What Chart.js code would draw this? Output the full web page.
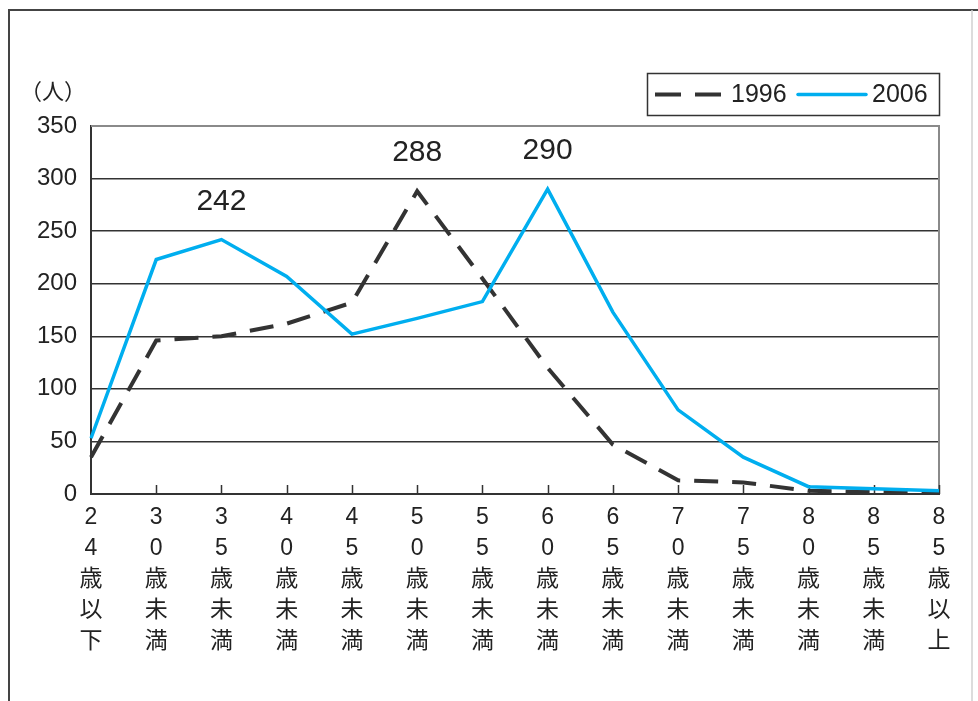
<!DOCTYPE html>
<html>
<head>
<meta charset="utf-8">
<script src="https://cdn.jsdelivr.net/npm/chart.js@4/dist/chart.umd.min.js"></script>
<style>
  html, body { margin: 0; padding: 0; background: #fff; }
  canvas { display: block; }
</style>
</head>
<body>
<canvas id="chart" width="978" height="701"></canvas>
<script>
// Age groups along the x axis
const categories = ['24歳以下', '30歳未満', '35歳未満', '40歳未満', '45歳未満', '50歳未満', '55歳未満',
                    '60歳未満', '65歳未満', '70歳未満', '75歳未満', '80歳未満', '85歳未満', '85歳以上'];
// Number of people per age group
const series1996 = [35, 146, 150, 162, 182, 288, 205, 120, 47, 13, 11, 3, 2, 1];
const series2006 = [53, 223, 242, 207, 152, 167, 183, 290, 173, 80, 35, 7, 5, 3];
const seriesNames = ['1996', '2006'];
// Y axis range and step
const yMin = 0, yMax = 350, yStep = 50;
// Category indexes whose values are printed above the line
const labelled1996 = [5];
const labelled2006 = [2, 7];
const unitLabel = '（人）';

const FONT = "'Liberation Sans', 'Noto Sans CJK JP', Arial, sans-serif";
const CJK_FONT = "'Noto Sans CJK JP', 'Liberation Sans', sans-serif";
const DARK = '#333333';
const BLUE = '#00AEEF';
const DASH = [24, 14];

// Outer frame of the figure
const framePlugin = {
  id: 'frame',
  beforeDraw(chart) {
    const ctx = chart.ctx;
    ctx.save();
    ctx.fillStyle = '#fff';
    ctx.fillRect(0, 0, chart.width, chart.height);
    ctx.strokeStyle = '#444';
    ctx.lineWidth = 2;
    ctx.beginPath();
    ctx.moveTo(9, chart.height);
    ctx.lineTo(9, 10);
    ctx.lineTo(chart.width, 10);
    ctx.stroke();
    ctx.strokeStyle = '#d0d0d0';
    ctx.lineWidth = 1.5;
    ctx.beginPath();
    ctx.moveTo(972, 10);
    ctx.lineTo(972, chart.height);
    ctx.stroke();
    ctx.restore();
  }
};

// Plot box (top/right edges) and inward tick marks on the category axis
const plotBoxPlugin = {
  id: 'plotBox',
  beforeDatasetsDraw(chart) {
    const { ctx, chartArea: a } = chart;
    const xs = chart.scales.x;
    ctx.save();
    ctx.strokeStyle = '#8a8a8a';
    ctx.lineWidth = 2;
    ctx.beginPath();
    ctx.moveTo(a.left, a.top);
    ctx.lineTo(a.right, a.top);
    ctx.lineTo(a.right, a.bottom);
    ctx.stroke();
    ctx.strokeStyle = DARK;
    ctx.lineWidth = 1.5;
    ctx.beginPath();
    for (let i = 1; i < xs.ticks.length; i++) {
      const x = Math.round(xs.getPixelForTick(i)) + 0.5;
      ctx.moveTo(x, a.bottom);
      ctx.lineTo(x, a.bottom - 9);
    }
    ctx.stroke();
    ctx.restore();
  }
};

// Value labels above selected points
const valueLabelPlugin = {
  id: 'valueLabels',
  afterDatasetsDraw(chart) {
    const ctx = chart.ctx;
    const picks = [[0, labelled1996], [1, labelled2006]];
    ctx.save();
    ctx.font = '30px ' + FONT;
    ctx.fillStyle = '#222';
    ctx.textAlign = 'center';
    ctx.textBaseline = 'middle';
    picks.forEach(([di, idxs]) => {
      const meta = chart.getDatasetMeta(di);
      const data = chart.data.datasets[di].data;
      idxs.forEach(i => {
        const pt = meta.data[i];
        ctx.fillText(String(data[i]), pt.x, pt.y - 38);
      });
    });
    ctx.restore();
  }
};

// Boxed legend above the plot and the unit label
const legendPlugin = {
  id: 'boxLegend',
  afterDraw(chart) {
    const { ctx, chartArea: a } = chart;
    const ds = chart.data.datasets;
    ctx.save();
    const boxR = a.right, boxB = a.top - 11, boxW = 292, boxH = 42;
    const boxL = boxR - boxW, boxT = boxB - boxH;
    ctx.strokeStyle = DARK;
    ctx.lineWidth = 1.5;
    ctx.strokeRect(boxL + 0.5, boxT + 0.5, boxW, boxH);
    const cy = boxT + boxH / 2 + 0.5;
    ctx.font = '25px ' + FONT;
    ctx.fillStyle = '#222';
    ctx.textBaseline = 'middle';
    ctx.textAlign = 'left';
    // 1996 entry
    ctx.strokeStyle = ds[0].borderColor;
    ctx.lineWidth = 4;
    ctx.setLineDash([26, 14]);
    ctx.beginPath();
    ctx.moveTo(boxL + 8, cy);
    ctx.lineTo(boxL + 74, cy);
    ctx.stroke();
    ctx.setLineDash([]);
    ctx.fillText(ds[0].label, boxL + 84, cy + 1);
    // 2006 entry
    ctx.strokeStyle = ds[1].borderColor;
    ctx.lineWidth = 3.5;
    ctx.lineCap = 'round';
    ctx.beginPath();
    ctx.moveTo(boxL + 151, cy);
    ctx.lineTo(boxL + 219, cy);
    ctx.stroke();
    ctx.fillText(ds[1].label, boxL + 225, cy + 1);
    // unit
    ctx.font = '22px ' + CJK_FONT;
    ctx.textAlign = 'center';
    ctx.fillText(unitLabel, a.left - 38, a.top - 35);
    ctx.restore();
  }
};

new Chart(document.getElementById('chart'), {
  type: 'line',
  data: {
    labels: categories.map(c => Array.from(c)),
    datasets: [
      {
        label: seriesNames[0],
        data: series1996,
        borderColor: DARK,
        borderWidth: 4,
        borderDash: DASH,
        pointRadius: 0,
        tension: 0,
        fill: false,
        order: 1
      },
      {
        label: seriesNames[1],
        data: series2006,
        borderColor: BLUE,
        borderWidth: 3.5,
        pointRadius: 0,
        tension: 0,
        fill: false,
        order: 0
      }
    ]
  },
  options: {
    responsive: false,
    animation: false,
    devicePixelRatio: 1,
    layout: { padding: { top: 126, right: 39, left: 0, bottom: 0 } },
    plugins: {
      legend: { display: false },
      tooltip: { enabled: false },
      title: { display: false }
    },
    scales: {
      x: {
        type: 'category',
        offset: false,
        grid: { display: false, drawTicks: false },
        border: { display: true, color: DARK, width: 2 },
        ticks: {
          autoSkip: false,
          maxRotation: 0,
          minRotation: 0,
          padding: 8,
          color: '#222',
          font: { family: FONT, size: 23, lineHeight: 1.35 }
        },
        afterFit(scale) { scale.height = 207; }
      },
      y: {
        min: yMin,
        max: yMax,
        grid: {
          drawTicks: false,
          color: ctx => (ctx.tick && ctx.tick.value === yMax) ? 'rgba(0,0,0,0)' : DARK,
          lineWidth: 1.5
        },
        border: { display: true, color: DARK, width: 2 },
        ticks: {
          stepSize: yStep,
          padding: 14,
          color: '#222',
          font: { family: FONT, size: 24 }
        },
        afterFit(scale) { scale.width = 91; }
      }
    }
  },
  plugins: [framePlugin, plotBoxPlugin, valueLabelPlugin, legendPlugin]
});
</script>
</body>
</html>
